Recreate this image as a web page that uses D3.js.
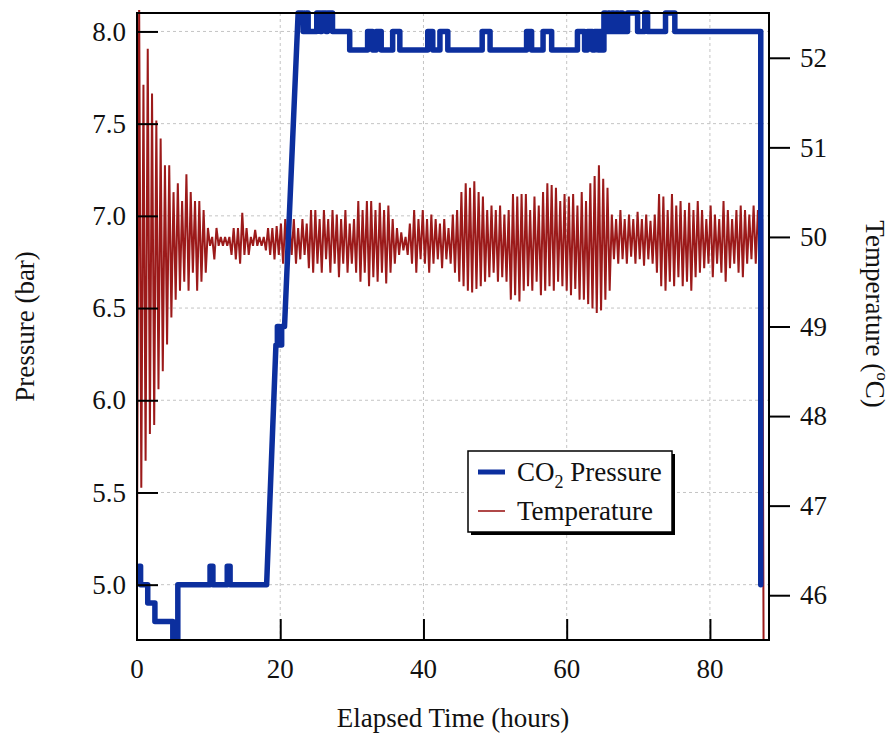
<!DOCTYPE html>
<html><head><meta charset="utf-8">
<script src="https://cdn.jsdelivr.net/npm/d3@7"></script>
<style>html,body{margin:0;padding:0;background:#fff}</style>
</head><body>
<svg id="chart" width="891" height="733"></svg>
<script>
// ---------- DATA ----------
const xTicks = [0, 20, 40, 60, 80];
const pressureTicks = [5.0, 5.5, 6.0, 6.5, 7.0, 7.5, 8.0];
const tempTicks = [46, 47, 48, 49, 50, 51, 52];

// CO2 pressure trace (hours, bar) – vertices of the logged step trace
const co2HoursA = [0.3,0.5,0.5,1.5,1.5,2.5,2.5,5.0,5.0,5.7,5.7,10.2,10.2,10.6,10.6,12.6,12.6,13.0,13.0,18.1,19.4,19.6,19.6,19.9,19.9,20.2,20.2,20.6,22.5,23.2,23.2,23.6,23.6,23.9,23.9,25.1,25.1,25.6,25.6,25.8,25.8,26.4,26.4,26.6,26.6,27.3,27.3,29.7,29.7];
const co2BarA   = [5.1,5.1,5.0,5.0,4.9,4.9,4.8,4.8,4.7,4.7,5.0,5.0,5.1,5.1,5.0,5.0,5.1,5.1,5.0,5.0,6.3,6.3,6.4,6.4,6.3,6.3,6.4,6.4,8.1,8.1,8.0,8.0,8.1,8.1,8.0,8.0,8.1,8.1,8.0,8.0,8.1,8.1,8.0,8.0,8.1,8.1,8.0,8.0,7.9];
const co2HoursB = [32.2,32.2,32.9,32.9,33.4,33.4,34.1,34.1,35.7,35.7,36.7,36.7,40.6,40.6,41.3,41.3,42.3,42.3,43.4,43.4,48.2,48.2,49.3,49.3,54.4,54.4,55.1,55.1,56.7,56.7,57.9,57.9,61.5,61.5,62.5,62.5,62.9,62.9,63.6,63.6,63.9,63.9,64.4,64.4];
const co2BarB   = [7.9,8.0,8.0,7.9,7.9,8.0,8.0,7.9,7.9,8.0,8.0,7.9,7.9,8.0,8.0,7.9,7.9,8.0,8.0,7.9,7.9,8.0,8.0,7.9,7.9,8.0,8.0,7.9,7.9,8.0,8.0,7.9,7.9,8.0,8.0,7.9,7.9,8.0,8.0,7.9,7.9,8.0,8.0,7.9];
const co2HoursC = [64.6,64.6,64.9,64.9,65.2,65.2,65.5,65.5,65.8,65.8,66.0,66.0,66.3,66.3,66.6,66.6,66.9,66.9,67.2,67.2,67.5,67.5,67.8,67.8,68.5,68.5,69.9,69.9,70.9,70.9,71.3,71.3,73.8,73.8,75.1,75.1,87.1,87.1];
const co2BarC   = [7.9,8.0,8.0,7.9,7.9,8.1,8.1,8.0,8.0,8.1,8.1,8.0,8.0,8.1,8.1,8.0,8.0,8.1,8.1,8.0,8.0,8.1,8.1,8.0,8.0,8.1,8.1,8.0,8.0,8.1,8.1,8.0,8.0,8.1,8.1,8.0,8.0,5.0];

// Temperature (°C), logged every 0.3 h from t = 0
const tempStepHours = 0.3;
const tempSeg1 = [46.5,52.6,47.2,51.7,47.5,52.1,47.8,51.6,47.9,51.3,48.3,51.1,48.5,50.8,48.8,50.8,49.1,50.5,49.3,50.6,49.4,50.4,49.5,50.7,49.4,50.5,49.6,50.4,49.4,50.4,49.5,50.3,49.6,50.1];
const tempSeg2 = [49.9,50.0,49.75,50.1,49.9,50.0,49.9,50.0,49.9,50.0,49.8,50.1,49.75,50.1,49.7,50.27,49.8,50.1,49.8,50.0,49.9,50.08,49.9,50.0,49.9,50.0,49.85,50.1,49.8,50.1,49.75,50.12,49.8,50.15];
const tempSeg3 = [49.70,50.20,49.75,50.15,49.80,50.20,49.70,50.10,49.75,50.20,
                  49.80,50.15,49.65,50.30,49.60,50.30,49.70,50.20,49.60,50.30,
                  49.75,50.20,49.60,50.30,49.70,50.25,49.55,50.20,49.70,50.30,
                  49.60,50.15,49.70,50.20,49.60,50.40,49.50,50.30,49.60,50.40,
                  49.45,50.40,49.55,50.30,49.50,50.38,49.60,50.30,49.48,50.35,
                  49.60,50.20,49.70,50.10,49.80,50.05,49.85,50.00,49.80,50.15,
                  49.70,50.30,49.60,50.20,49.75,50.30,49.70,50.20,49.60,50.25,
                  49.70,50.20,49.75,50.15,49.65,50.20,49.75,50.10,49.70,50.25,
                  49.60,50.30,49.50];
const tempSeg4 = [50.50,49.45,50.60,49.40,50.55,49.38,50.62,49.42,50.50,49.45,
                  50.45,49.50,50.30,49.55,50.35,49.60,50.30,49.50,50.35,49.55,
                  50.25,49.50,50.30,49.30,50.48,49.35,50.45,49.28,50.48,49.40,
                  50.48,49.45,50.30,49.40,50.45,49.50,50.35,49.35,50.50,49.40,
                  50.60,49.45,50.58,49.40,50.55,49.50,50.40,49.45,50.48,49.40,
                  50.45,49.35,50.48,49.42,50.35,49.30,50.50,49.30,50.40,49.25,
                  50.60,49.20,50.68,49.15,50.80,49.18,50.65,49.30,50.55,49.40];
const tempSeg5 = [50.25,49.75,50.20,49.70,50.30,49.75,50.20,49.70,50.25,49.78,
                  50.20,49.70,50.28,49.75,50.20,49.68,50.25,49.75,50.18,49.70,
                  50.25,49.60,50.48,49.45,50.45,49.40,50.30,49.50,50.48,49.45,
                  50.35,49.55,50.40,49.45,50.30,49.50,50.38,49.40,50.30,49.55,
                  50.40,49.60,50.30,49.65,50.20,49.70,50.35,49.55,50.25,49.70,
                  50.20,49.60,50.40,49.50,50.30,49.65,50.20,49.70,50.30,49.60,
                  50.35,49.55,50.30,49.70,50.25,49.75,50.35,49.70,50.30,49.75,
                  50.20];
const tempEndHours = [87.5];
const tempEndValues = [45.3];

// ---------- CHART ----------
const L = 137, R = 769, T = 13, B = 640;
const svg = d3.select("#chart");
const FONT = "'Liberation Serif','Times New Roman',serif";

const x = d3.scaleLinear().domain([0, 88.25]).range([L, R]);
const yP = d3.scaleLinear().domain([4.7, 8.1]).range([B, T]);
const yT = d3.scaleLinear().domain([45.5, 52.5]).range([B, T]);

svg.append("defs").append("clipPath").attr("id", "clip")
  .append("rect").attr("x", L).attr("y", T - 3).attr("width", R - L).attr("height", B - T + 4);

// grid
const grid = svg.append("g").attr("stroke", "#c4c4c4").attr("stroke-width", 1).attr("stroke-dasharray", "3,3");
grid.selectAll("line.h").data(pressureTicks).join("line")
  .attr("x1", L).attr("x2", R).attr("y1", d => yP(d)).attr("y2", d => yP(d));
grid.selectAll("line.v").data(xTicks.filter(d => d > 0)).join("line").attr("class","v")
  .attr("y1", T).attr("y2", B).attr("x1", d => x(d)).attr("x2", d => x(d));

// temperature series
const tempValues = [].concat(tempSeg1, tempSeg2, tempSeg3, tempSeg4, tempSeg5);
const tempData = tempValues.map((v, i) => [i * tempStepHours, v])
  .concat(tempEndHours.map((h, i) => [h, tempEndValues[i]]));
const gData = svg.append("g").attr("clip-path", "url(#clip)");
gData.append("path").datum(tempData)
  .attr("fill", "none").attr("stroke", "#9c1a1a").attr("stroke-width", 2)
  .attr("d", d3.line().x(d => x(d[0])).y(d => yT(d[1])));

// CO2 series
const co2Hours = [].concat(co2HoursA, co2HoursB, co2HoursC);
const co2Bar = [].concat(co2BarA, co2BarB, co2BarC);
const co2Data = co2Hours.map((h, i) => [h, co2Bar[i]]);
gData.append("path").datum(co2Data)
  .attr("fill", "none").attr("stroke", "#0c2f9e").attr("stroke-width", 5.5)
  .attr("stroke-linejoin", "round").attr("stroke-linecap", "round")
  .attr("d", d3.line().x(d => x(d[0])).y(d => yP(d[1])));

// axes
const axL = svg.append("g").attr("transform", `translate(${L},0)`)
  .call(d3.axisRight(yP).tickValues(pressureTicks).tickSize(21).tickFormat(""));
const axB = svg.append("g").attr("transform", `translate(0,${B})`)
  .call(d3.axisTop(x).tickValues(xTicks.filter(d => d > 0)).tickSize(21).tickFormat(""));
const axR = svg.append("g").attr("transform", `translate(${R},0)`)
  .call(d3.axisRight(yT).tickValues(tempTicks).tickSize(21).tickFormat(""));
[axL, axB, axR].forEach(a => {
  a.select(".domain").remove();
  a.selectAll(".tick line").attr("stroke", "#000").attr("stroke-width", 2);
});

// frame
svg.append("rect").attr("x", L).attr("y", T).attr("width", R - L).attr("height", B - T)
  .attr("fill", "none").attr("stroke", "#000").attr("stroke-width", 2);

// tick labels
const tl = svg.append("g").attr("font-family", FONT).attr("font-size", 27).attr("fill", "#111");
tl.selectAll("text.l").data(pressureTicks).join("text").attr("class","l")
  .attr("x", 126).attr("y", d => yP(d)).attr("dy", "0.34em").attr("text-anchor", "end")
  .text(d => d3.format(".1f")(d));
tl.selectAll("text.b").data(xTicks).join("text").attr("class","b")
  .attr("x", d => x(d)).attr("y", 678).attr("text-anchor", "middle").text(d => d);
tl.selectAll("text.r").data(tempTicks).join("text").attr("class","r")
  .attr("x", 800).attr("y", d => yT(d)).attr("dy", "0.34em").attr("text-anchor", "start").text(d => d);

// axis titles
const tt = svg.append("g").attr("font-family", FONT).attr("font-size", 27).attr("fill", "#111");
tt.append("text").attr("transform", `translate(34,${(T + B) / 2}) rotate(-90)`)
  .attr("text-anchor", "middle").text("Pressure (bar)");
tt.append("text").attr("x", (L + R) / 2).attr("y", 727).attr("text-anchor", "middle").text("Elapsed Time (hours)");
const rt = tt.append("text").attr("transform", `translate(866,314) rotate(90)`).attr("text-anchor", "middle");
rt.append("tspan").text("Temperature (");
rt.append("tspan").attr("font-size", 17).attr("dy", -11).text("o");
rt.append("tspan").attr("dy", 11).text("C)");

// legend
const lg = svg.append("g");
lg.append("rect").attr("x", 471).attr("y", 454).attr("width", 204).attr("height", 81).attr("fill", "#000");
lg.append("rect").attr("x", 468).attr("y", 451).attr("width", 204).attr("height", 81)
  .attr("fill", "#fff").attr("stroke", "#000").attr("stroke-width", 1.5);
lg.append("line").attr("x1", 478).attr("x2", 505).attr("y1", 472).attr("y2", 472)
  .attr("stroke", "#0c2f9e").attr("stroke-width", 5);
lg.append("line").attr("x1", 478).attr("x2", 505).attr("y1", 511).attr("y2", 511)
  .attr("stroke", "#9c1a1a").attr("stroke-width", 1.6);
const t1 = lg.append("text").attr("x", 517).attr("y", 481).attr("font-family", FONT).attr("font-size", 27).attr("fill", "#111");
t1.append("tspan").text("CO");
t1.append("tspan").attr("font-size", 18).attr("dy", 7).text("2");
t1.append("tspan").attr("dy", -7).text(" Pressure");
lg.append("text").attr("x", 517).attr("y", 520).attr("font-family", FONT).attr("font-size", 27).attr("fill", "#111")
  .text("Temperature");
</script>
</body></html>
